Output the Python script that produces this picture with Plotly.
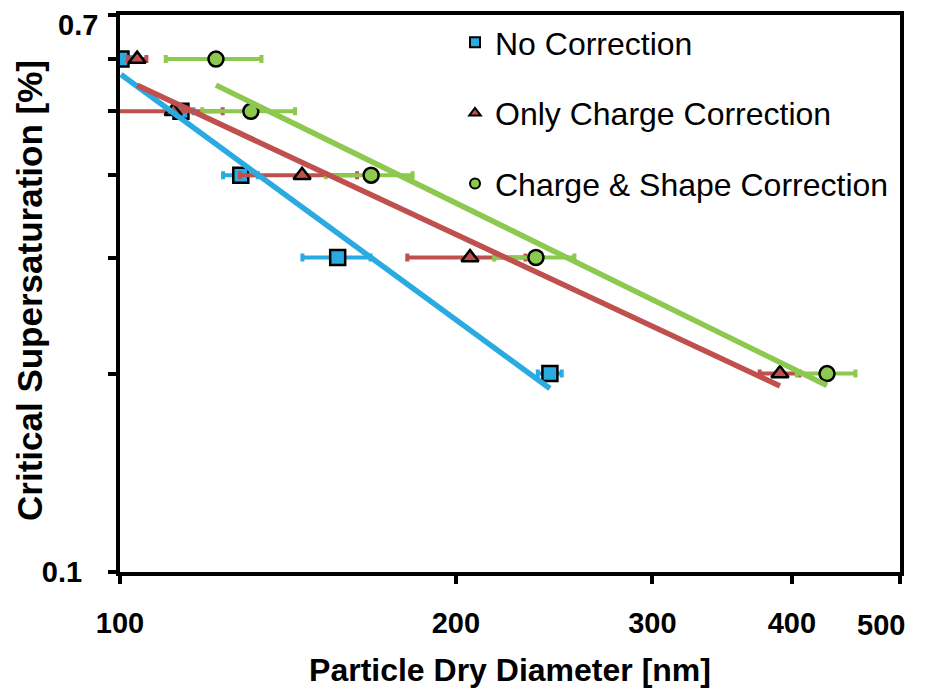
import numpy as np
import plotly.graph_objects as go

# ---- data ----
supersat = [0.6, 0.5, 0.4, 0.3, 0.2]

no_corr_d = [100.2, 113.4, 128.3, 156.7, 242.8]
no_corr_err = [2, 3, 4.6, 11, 6]

charge_d = [103.6, 111.6, 145.6, 205.9, 390.3]
charge_err = [2, 12, 17.5, 25, 16]

shape_d = [121.9, 131.0, 167.9, 235.9, 430.1]
shape_err = [12, 12.5, 15, 19.5, 26]

series_names = ["No Correction", "Only Charge Correction", "Charge & Shape Correction"]
x_tickvals = [100, 200, 300, 400, 500]
x_ticktext = ["100", "200", "300", "400", ""]
y_tickvals = [0.1, 0.2, 0.3, 0.4, 0.5, 0.6, 0.7]
y_ticktext = ["0.1", "", "", "", "", "", ""]

colors = ["#29ABE2", "#C0504D", "#8DC84F"]
symbols = ["square", "triangle-up", "circle"]

fig = go.Figure()

series = [(no_corr_d, no_corr_err), (charge_d, charge_err), (shape_d, shape_err)]

for (d, e), c, s, name in zip(series, colors, symbols, series_names):
    fig.add_trace(go.Scatter(
        x=d, y=supersat, mode="markers", showlegend=False,
        marker=dict(symbol=s, size=15, color=c, line=dict(color="black", width=2.5)),
        error_x=dict(type="data", array=e, color=c, thickness=4, width=4),
    ))

# power-law trendlines (least squares fit in log-log space)
for (d, e), c in zip(series, colors):
    lx = np.log10(d)
    ly = np.log10(supersat)
    b, a = np.polyfit(lx, ly, 1)
    xs = np.array([min(d), max(d)])
    ys = 10 ** (a + b * np.log10(xs))
    fig.add_trace(go.Scatter(x=xs, y=ys, mode="lines", showlegend=False,
                             line=dict(color=c, width=5.5)))

# legend entries
for i, (c, s, name) in enumerate(zip(colors, symbols, series_names)):
    fig.add_trace(go.Scatter(
        x=[None], y=[None], mode="markers", name=name, legendgroup=f"g{i}",
        marker=dict(symbol=s, size=10, color=c, line=dict(color="black", width=2)),
    ))

tick_font = dict(size=29, family="Liberation Sans, Arial", weight="bold", color="black")

fig.update_layout(
    width=925, height=692,
    margin=dict(l=112, r=33, t=7, b=128),
    paper_bgcolor="white", plot_bgcolor="white",
    font=dict(family="Liberation Sans, Arial, sans-serif", color="black"),
    legend=dict(x=0.4295, y=1.0, xanchor="left", yanchor="top",
                font=dict(size=32, family="Liberation Sans, Arial, sans-serif"),
                tracegroupgap=26, bgcolor="rgba(0,0,0,0)"),
    xaxis=dict(
        type="log", range=[2, np.log10(500)], automargin=False,
        tickvals=x_tickvals, ticktext=x_ticktext,
        ticks="outside", ticklen=8, tickwidth=4, tickcolor="black",
        showline=True, linewidth=4, linecolor="black", mirror=True,
        showgrid=False, zeroline=False,
        tickfont=tick_font,
        ticklabelstandoff=14,
        title=dict(text="<b>Particle Dry Diameter [nm]</b>",
                   font=dict(size=32, family="Liberation Sans, Arial"), standoff=22),
    ),
    yaxis=dict(
        type="log", range=[-1, np.log10(0.7)], automargin=False,
        tickvals=y_tickvals, ticktext=y_ticktext,
        ticks="outside", ticklen=8, tickwidth=4, tickcolor="black",
        showline=True, linewidth=4, linecolor="black", mirror=True,
        showgrid=False, zeroline=False,
        tickfont=tick_font, ticklabelstandoff=20,
    ),
    annotations=[
        dict(text="<b>0.7</b>", xref="paper", yref="paper", x=-0.0256, y=0.982,
             xanchor="right", yanchor="middle", showarrow=False, font=tick_font),
        dict(text="<b>500</b>", xref="paper", yref="paper", x=0.9756, y=-0.0952,
             xanchor="center", yanchor="middle", showarrow=False, font=tick_font),
        dict(text="<b>Critical Supersaturation [%]</b>", xref="paper", yref="paper",
             x=-0.1154, y=0.5063, xanchor="center", yanchor="middle", textangle=-90,
             showarrow=False, font=dict(size=35, family="Liberation Sans, Arial", color="black")),
    ],
)

fig.write_html("out.html")
